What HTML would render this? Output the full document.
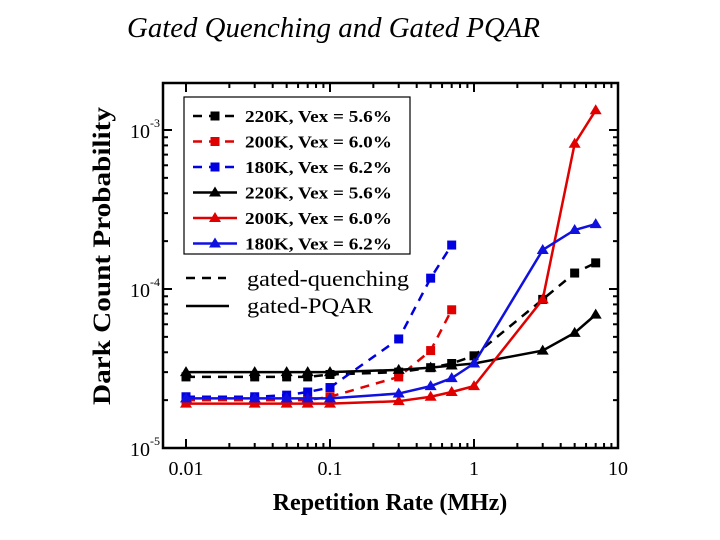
<!DOCTYPE html>
<html><head><meta charset="utf-8"><style>
body{margin:0;background:#fff;}
svg{display:block;font-family:"Liberation Serif",serif;}
</style></head><body>
<svg id="chart" width="720" height="540" viewBox="0 0 720 540" xmlns="http://www.w3.org/2000/svg">
<text x="127" y="37" font-size="28" font-style="italic" textLength="413" lengthAdjust="spacingAndGlyphs">Gated Quenching and Gated PQAR</text>
<text transform="translate(110,256) rotate(-90)" text-anchor="middle" font-size="25" font-weight="bold" textLength="298" lengthAdjust="spacingAndGlyphs">Dark Count Probability</text>
<text x="390" y="510" text-anchor="middle" font-size="24" font-weight="bold">Repetition Rate (MHz)</text>
<g id="axes"></g>
<g id="series"></g>
<g id="legend"></g>
</svg>
<script>
const xValues=[0.01,0.03,0.05,0.07,0.1,0.3,0.5,0.7,1,3,5,7];
const xValuesShort=[0.01,0.03,0.05,0.07,0.1,0.3,0.5,0.7];
const gq220=[2.8e-5,2.8e-5,2.8e-5,2.8e-5,2.9e-5,3.0e-5,3.2e-5,3.4e-5,3.8e-5,8.6e-5,1.26e-4,1.46e-4];
const gq200=[2.0e-5,2.0e-5,2.0e-5,2.0e-5,2.1e-5,2.8e-5,4.1e-5,7.4e-5];
const gq180=[2.1e-5,2.1e-5,2.15e-5,2.25e-5,2.4e-5,4.85e-5,1.17e-4,1.89e-4];
const pq220=[3.0e-5,3.0e-5,3.0e-5,3.0e-5,3.0e-5,3.1e-5,3.2e-5,3.3e-5,3.4e-5,4.1e-5,5.3e-5,6.9e-5];
const pq200=[1.9e-5,1.9e-5,1.9e-5,1.9e-5,1.9e-5,1.97e-5,2.1e-5,2.25e-5,2.45e-5,8.6e-5,8.2e-4,1.33e-3];
const pq180=[2.05e-5,2.05e-5,2.05e-5,2.05e-5,2.05e-5,2.2e-5,2.45e-5,2.75e-5,3.4e-5,1.76e-4,2.35e-4,2.56e-4];
const xTickLabels=["0.01","0.1","1","10"];
const yTickExps=[-3,-4,-5];

const NS="http://www.w3.org/2000/svg";
const L=163,R=618,T=83,B=448;
const X=v=>186+(Math.log10(v)+2)*144;
const Y=v=>289-(Math.log10(v)+4)*159;
function mk(tag,attrs,parent){const e=document.createElementNS(NS,tag);for(const k in attrs)e.setAttribute(k,attrs[k]);parent.appendChild(e);return e;}
const axes=document.getElementById('axes');
const frame=mk('rect',{x:L,y:T,width:R-L,height:B-T,fill:'none',stroke:'#000','stroke-width':2.5},axes);


for(let d=-2;d<=1;d++){
  for(let m=1;m<=9;m++){
    const v=m*Math.pow(10,d); if(v>10.001)break;
    const px=X(v); if(px<L)continue;
    const len=m===1?9:5;
    mk('line',{x1:px,y1:B,x2:px,y2:B-len,stroke:'#000','stroke-width':2},axes);
    mk('line',{x1:px,y1:T,x2:px,y2:T+len,stroke:'#000','stroke-width':2},axes);
  }
}
xTickLabels.forEach(s=>{
  const t=mk('text',{x:X(parseFloat(s)),y:475,'text-anchor':'middle','font-size':20},axes);t.textContent=s;
  
  
});
for(let d=-5;d<=-3;d++){
  for(let m=1;m<=9;m++){
    const v=m*Math.pow(10,d);const py=Y(v);if(py<T)break;
    const len=m===1?9:5;
    mk('line',{x1:L,y1:py,x2:L+len,y2:py,stroke:'#000','stroke-width':2},axes);
    mk('line',{x1:R,y1:py,x2:R-len,y2:py,stroke:'#000','stroke-width':2},axes);
  }
}
yTickExps.forEach(e=>{
  const g=mk('text',{x:130,y:Y(Math.pow(10,e))+8,'font-size':20},axes);
  
  
  g.textContent='10';
  const s=mk('tspan',{dy:-11,'font-size':12},g);s.textContent=String(e);
});
const series=document.getElementById('series');
function drawSeries(xs,ys,color,dash,marker,name){
  const g=mk('g',{},series);
  
  
  const pts=xs.map((x,i)=>X(x)+','+Y(ys[i])).join(' ');
  const pl=mk('polyline',{points:pts,fill:'none',stroke:color,'stroke-width':2.5},g);
  if(dash)pl.setAttribute('stroke-dasharray','9,7');
  xs.forEach((x,i)=>{
    const cx=X(x),cy=Y(ys[i]);let m;
    if(marker==='s')m=mk('rect',{x:cx-4.5,y:cy-4.5,width:9,height:9,fill:color},g);
    else m=mk('polygon',{points:`${cx},${cy-6} ${cx-6},${cy+4} ${cx+6},${cy+4}`,fill:color},g);
    
    
  });
}
drawSeries(xValues,gq220,'#000',true,'s','gq-220k');
drawSeries(xValuesShort,gq200,'#e00000',true,'s','gq-200k');
drawSeries(xValuesShort,gq180,'#0000e0',true,'s','gq-180k');
drawSeries(xValues,pq220,'#000',false,'t','pqar-220k');
drawSeries(xValues,pq200,'#e00000',false,'t','pqar-200k');
drawSeries(xValues,pq180,'#1010e0',false,'t','pqar-180k');
const lg=document.getElementById('legend');


mk('rect',{x:184,y:97,width:226,height:157,fill:'#fff',stroke:'#000','stroke-width':1.2},lg);
const entries=[['#000',true,'s','220K, Vex = 5.6%'],['#e00000',true,'s','200K, Vex = 6.0%'],['#0000e0',true,'s','180K, Vex = 6.2%'],['#000',false,'t','220K, Vex = 5.6%'],['#e00000',false,'t','200K, Vex = 6.0%'],['#1010e0',false,'t','180K, Vex = 6.2%']];
entries.forEach((e,i)=>{
  const y=116+i*25.5;
  const g=mk('g',{},lg);
  
  
  const ln=mk('line',{x1:193,y1:y,x2:237,y2:y,stroke:e[0],'stroke-width':2.5},g);
  if(e[1])ln.setAttribute('stroke-dasharray','9,7');
  if(e[2]==='s')mk('rect',{x:210.5,y:y-4.5,width:9,height:9,fill:e[0]},g);
  else mk('polygon',{points:`215,${y-6} 209,${y+4} 221,${y+4}`,fill:e[0]},g);
  const t=mk('text',{x:245,y:y+6,'font-size':17,'font-weight':'bold',textLength:147,lengthAdjust:'spacingAndGlyphs'},g);t.textContent=e[3];
});
mk('line',{x1:186,y1:278,x2:226,y2:278,stroke:'#000','stroke-width':2.5,'stroke-dasharray':'9,7'},lg);
const t1=mk('text',{x:247,y:286,'font-size':22,textLength:162,lengthAdjust:'spacingAndGlyphs'},lg);t1.textContent='gated-quenching';


mk('line',{x1:186,y1:306,x2:229,y2:306,stroke:'#000','stroke-width':2.5},lg);
const t2=mk('text',{x:247,y:313,'font-size':22,textLength:126,lengthAdjust:'spacingAndGlyphs'},lg);t2.textContent='gated-PQAR';


</script>
</body></html>
